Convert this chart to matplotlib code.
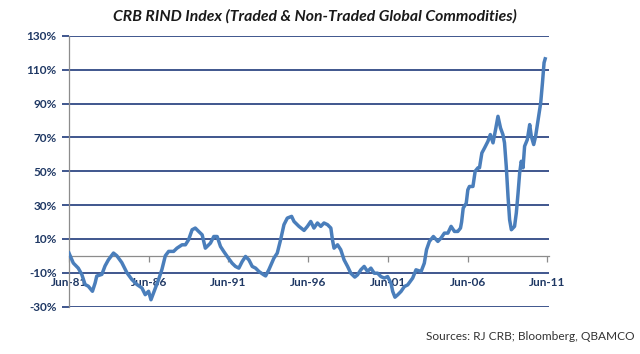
import matplotlib
matplotlib.use("Agg")
import matplotlib.pyplot as plt

plt.rcParams['font.family'] = ['Lato', 'DejaVu Sans']

# Dates (decimal years) and CRB RIND index change (%)
dates = [1981.50, 1981.77, 1982.08, 1982.30, 1982.51, 1982.71, 1982.97, 1983.14, 1983.24, 1983.56,
         1983.76, 1983.97, 1984.29, 1984.50, 1984.81, 1985.13, 1985.44, 1985.76, 1986.07, 1986.28,
         1986.49, 1986.64, 1986.80, 1987.12, 1987.33, 1987.54, 1987.75, 1988.06, 1988.27, 1988.59,
         1988.80, 1989.00, 1989.22, 1989.42, 1989.63, 1989.85, 1990.05, 1990.37, 1990.58, 1990.79,
         1991.00, 1991.20, 1991.42, 1991.73, 1991.94, 1992.15, 1992.36, 1992.57, 1992.78, 1992.99,
         1993.20, 1993.41, 1993.72, 1993.83, 1994.03, 1994.35, 1994.56, 1994.77, 1994.98, 1995.19,
         1995.46, 1995.61, 1995.92, 1996.24, 1996.45, 1996.66, 1996.86, 1997.08, 1997.29, 1997.49,
         1997.71, 1997.92, 1998.02, 1998.12, 1998.34, 1998.54, 1998.75, 1998.97, 1999.17, 1999.42,
         1999.59, 1999.80, 2000.01, 2000.22, 2000.43, 2000.64, 2000.85, 2001.06, 2001.27, 2001.48,
         2001.69, 2001.80, 2001.94, 2002.11, 2002.32, 2002.53, 2002.74, 2003.05, 2003.26, 2003.58,
         2003.78, 2003.92, 2004.10, 2004.35, 2004.63, 2004.83, 2005.04, 2005.26, 2005.46, 2005.67,
         2005.88, 2006.05, 2006.12, 2006.22, 2006.41, 2006.51, 2006.61, 2006.83, 2006.97, 2007.14,
         2007.24, 2007.39, 2007.56, 2007.77, 2007.92, 2008.09, 2008.25, 2008.40, 2008.56, 2008.71,
         2008.81, 2008.92, 2009.03, 2009.13, 2009.24, 2009.44, 2009.55, 2009.66, 2009.76, 2009.86,
         2009.97, 2010.07, 2010.24, 2010.39, 2010.49, 2010.64, 2010.76, 2010.92, 2011.08, 2011.19,
         2011.29, 2011.36]
values = [1.6, -4.3, -7.3, -11, -17, -18, -21, -16, -12, -11,
          -6, -2.4, 1.6, 0, -4, -10, -14, -17, -19, -23,
          -21, -26, -22, -14, -8, 0, 2.6, 2.6, 4.5, 6.5,
          6.5, 9.5, 15.4, 16.4, 14.4, 12.4, 4.5, 7.5, 11.4, 11.4,
          5.5, 2.6, -0.4, -4.4, -6.3, -7.3, -3.4, -0.4, -2.4, -6.3,
          -7.3, -9.3, -11.3, -11.9, -8.3, -1.4, 1.6, 9.5, 18.4, 22.3,
          23.3, 20.3, 17.4, 15, 17.4, 20.3, 16.4, 19.4, 17.4, 19.4,
          18.4, 16.4, 9.5, 4.5, 6.5, 3.6, -2.4, -6.3, -10.3, -12.6,
          -11.3, -8.3, -6.3, -9.3, -7.3, -10.3, -10.3, -12.3, -13.2, -12.3,
          -16.2, -21.1, -24.5, -23.1, -21.1, -18.2, -17.2, -13.2, -8.3, -9.3,
          -4.4, 3.6, 8.5, 11.4, 8.5, 10.5, 13.4, 13.4, 17.4, 14.4,
          14.4, 16.4, 20, 28.2, 31.1, 39, 41, 41, 50, 52,
          52, 60.8, 63.8, 67.7, 71.7, 66.8, 74.7, 82.5, 75.6, 71.7,
          66.8, 52.9, 35.1, 21.3, 15.4, 17.4, 25.3, 37.1, 49, 55.9,
          52, 64.8, 68.7, 77.6, 70.7, 65.8, 70.7, 80.6, 90.5, 102.3,
          114.2, 116.5]

x_tick_pos = [1981.5, 1986.5, 1991.5, 1996.5, 2001.5, 2006.5, 2011.5]
x_tick_labels = ["Jun-81", "Jun-86", "Jun-91", "Jun-96", "Jun-01", "Jun-06", "Jun-11"]
y_ticks = [-30, -10, 10, 30, 50, 70, 90, 110, 130]

title = "CRB RIND Index (Traded & Non-Traded Global Commodities)"
source = "Sources: RJ CRB; Bloomberg, QBAMCO"

navy = "#1F3A7A"
label_col = "#1F3864"

fig = plt.figure(figsize=(6.4, 3.54), dpi=100)
ax = fig.add_axes([69/640, 1 - 306.5/354, 480/640, (306.5 - 36)/354])

for yv in y_ticks:
    ax.axhline(yv, color=navy, lw=1.2, zorder=1)

ax.plot(dates, values, color="#4A7EBB", lw=2.5, zorder=5, solid_joinstyle='round')

ax.set_xlim(1981.5, 2011.6)
ax.set_ylim(-30, 130)

ax.spines['top'].set_visible(False)
ax.spines['right'].set_visible(False)
ax.spines['left'].set_color("#8C8C8C")
ax.spines['left'].set_linewidth(0.9)
ax.spines['bottom'].set_position(('data', 0))
ax.spines['bottom'].set_color("#8C8C8C")
ax.spines['bottom'].set_linewidth(0.9)
ax.spines['bottom'].set_zorder(2)

ax.set_xticks(x_tick_pos)
ax.set_xticklabels(x_tick_labels)
ax.set_yticks(y_ticks)
ax.set_yticklabels([f"{v}%" for v in y_ticks])

ax.tick_params(axis='x', direction='out', length=4, width=0.9, color="#8C8C8C",
               pad=11, labelsize=8.5, labelcolor=label_col)
ax.tick_params(axis='y', direction='out', length=5, width=1.2, color=navy,
               pad=4, labelsize=8.5, labelcolor=label_col)
for lab in ax.get_xticklabels() + ax.get_yticklabels():
    lab.set_fontweight('bold')

fig.text(315/640, 1 - 16/354, title, ha='center', va='center', fontsize=11.3,
         fontweight='bold', fontstyle='italic', color="#1A1A1A")
fig.text(635/640, 1 - 337/354, source, ha='right', va='center', fontsize=8.6,
         color="#333333")

fig.savefig("out.png", dpi=100)
